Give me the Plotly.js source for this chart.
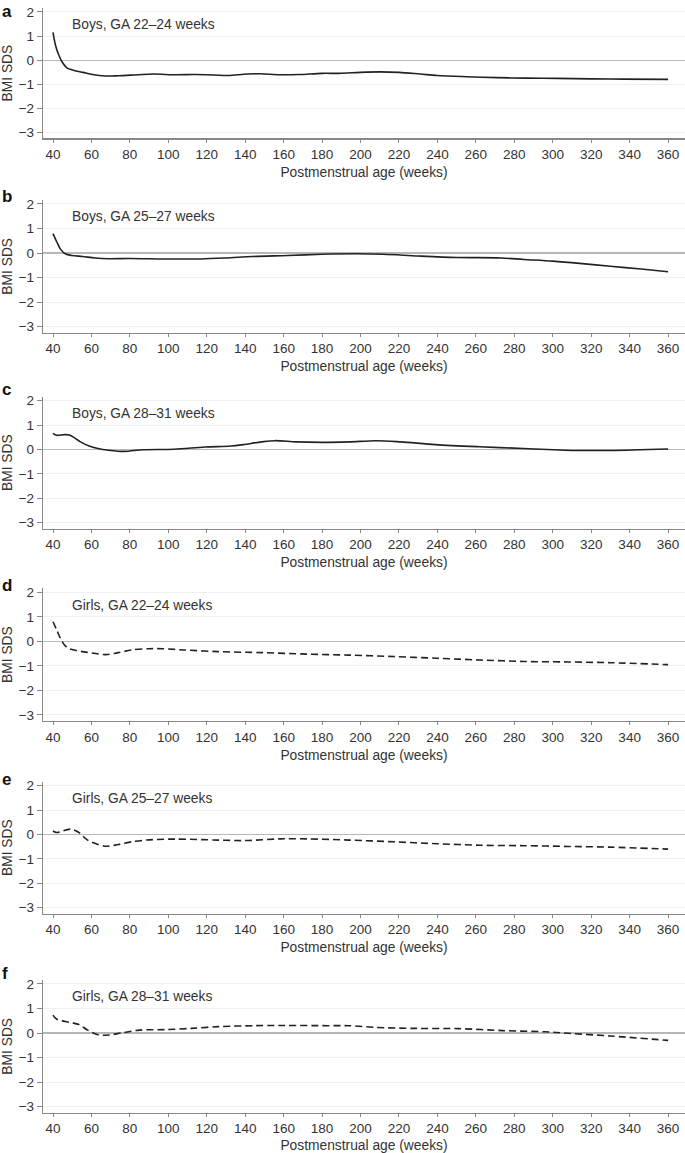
<!DOCTYPE html>
<html>
<head>
<meta charset="utf-8">
<script src="https://cdn.plot.ly/plotly-3.0.1.min.js"></script>
<style>body{margin:0;background:#fff}</style>
</head>
<body>
<div id="myDiv" style="width:685px;height:1153px"></div>
<script>
// BMI SDS by postmenstrual age
var boys2224_x = [40, 41.3, 43, 44.7, 47.2, 50.6, 55.6, 60.6, 67, 74, 84, 92, 104, 114, 124, 131, 141, 148, 158, 168, 180, 189, 200, 210, 220, 231, 240, 255, 271, 286, 302, 320, 337, 360];
var boys2224_y = [1.15, 0.62, 0.21, -0.07, -0.32, -0.42, -0.51, -0.6, -0.66, -0.65, -0.61, -0.58, -0.61, -0.6, -0.62, -0.64, -0.58, -0.57, -0.61, -0.6, -0.55, -0.55, -0.51, -0.49, -0.51, -0.58, -0.64, -0.69, -0.73, -0.75, -0.76, -0.78, -0.79, -0.8];

var boys2527_x = [40, 42, 44, 46.4, 49.8, 55.4, 62, 69, 80, 98.6, 116.7, 130, 144, 162, 180, 198, 212, 230, 250, 273, 285, 300, 314, 330, 346, 360];
var boys2527_y = [0.79, 0.45, 0.15, -0.03, -0.1, -0.14, -0.2, -0.23, -0.22, -0.24, -0.24, -0.2, -0.14, -0.1, -0.05, -0.03, -0.05, -0.12, -0.18, -0.2, -0.26, -0.33, -0.42, -0.54, -0.65, -0.76];

var boys2831_x = [40, 42, 46, 48.6, 54.3, 58.8, 63.4, 69, 77, 87, 103, 119, 132.6, 139, 148.5, 155.3, 166.6, 180, 194, 208, 221, 239, 262, 284.7, 300.5, 312, 330, 360];
var boys2831_y = [0.66, 0.58, 0.61, 0.59, 0.31, 0.14, 0.04, -0.03, -0.08, -0.01, 0.01, 0.1, 0.14, 0.2, 0.31, 0.36, 0.31, 0.29, 0.31, 0.36, 0.31, 0.2, 0.11, 0.04, -0.01, -0.04, -0.04, 0.02];

var girls2224_x = [40, 42, 44, 46, 48, 52, 58, 67.5, 74, 81, 90, 97, 108, 126, 149, 172, 194, 217, 240, 262, 285, 308, 330, 360];
var girls2224_y = [0.8, 0.45, 0.1, -0.15, -0.28, -0.37, -0.45, -0.54, -0.46, -0.35, -0.3, -0.3, -0.35, -0.42, -0.46, -0.52, -0.56, -0.62, -0.69, -0.76, -0.82, -0.84, -0.87, -0.95];

var girls2527_x = [40, 42, 49, 53.5, 58, 67, 74, 81, 90, 103.5, 126, 140, 158, 172, 194, 217, 240, 262, 285, 308, 330, 360];
var girls2527_y = [0.14, 0.08, 0.22, 0.08, -0.23, -0.48, -0.41, -0.3, -0.22, -0.19, -0.23, -0.25, -0.18, -0.18, -0.23, -0.3, -0.38, -0.44, -0.46, -0.49, -0.52, -0.6];

var girls2831_x = [40, 42, 49, 53.5, 58, 63.5, 69, 76, 85, 99, 112, 126, 144.5, 160, 183, 194, 208, 228, 251, 274, 296, 308, 330, 360];
var girls2831_y = [0.73, 0.56, 0.43, 0.35, 0.12, -0.07, -0.08, 0.01, 0.12, 0.14, 0.19, 0.26, 0.3, 0.31, 0.3, 0.3, 0.23, 0.19, 0.18, 0.1, 0.05, -0.01, -0.12, -0.3];

var panelLetters = ['a', 'b', 'c', 'd', 'e', 'f'];
var panelNames = ['Boys, GA 22\u201324 weeks', 'Boys, GA 25\u201327 weeks', 'Boys, GA 28\u201331 weeks',
                  'Girls, GA 22\u201324 weeks', 'Girls, GA 25\u201327 weeks', 'Girls, GA 28\u201331 weeks'];
var xs = [boys2224_x, boys2527_x, boys2831_x, girls2224_x, girls2527_x, girls2831_x];
var ys = [boys2224_y, boys2527_y, boys2831_y, girls2224_y, girls2527_y, girls2831_y];
var dashes = ['solid', 'solid', 'solid', '7px,4px', '7px,4px', '7px,4px'];
var xTicks = [40, 60, 80, 100, 120, 140, 160, 180, 200, 220, 240, 260, 280, 300, 320, 340, 360];
var yTicks = [-3, -2, -1, 0, 1, 2];

// panel pixel positions (top, bottom) in the 1153px page
var H = 1153;
var tops = [7.9, 199.8, 396.5, 588.1, 781.5, 979.8];
var bots = [138.3, 332.8, 528.8, 721.1, 913.8, 1112.8];
var letterY = [11, 196.5, 390, 585, 779, 973];

var data = [];
var layout = {
  width: 685, height: H,
  margin: {l: 43, r: 0, t: 0, b: 0},
  paper_bgcolor: '#fff', plot_bgcolor: '#fff',
  showlegend: false,
  font: {family: 'Liberation Sans, Arial, sans-serif', size: 13.5, color: '#333'},
  annotations: []
};

for (var i = 0; i < 6; i++) {
  var n = i === 0 ? '' : String(i + 1);
  data.push({
    type: 'scatter', mode: 'lines',
    x: xs[i], y: ys[i],
    xaxis: 'x' + n, yaxis: 'y' + n,
    line: {color: '#222', width: 1.6, shape: 'spline', smoothing: 0.9, dash: dashes[i]},
    hoverinfo: 'x+y'
  });
  layout['xaxis' + n] = {
    domain: [0, 1], anchor: 'y' + n,
    range: [34.8, 368.8],
    tickvals: xTicks,
    ticks: 'outside', ticklen: 3, tickcolor: '#888',
    showline: true, linecolor: '#888', linewidth: 1.2,
    showgrid: false, zeroline: false,
    tickfont: {size: 13.5, color: '#333'},
    title: {text: 'Postmenstrual age (weeks)', font: {size: 13.8, color: '#333'}, standoff: 6}
  };
  layout['yaxis' + n] = {
    domain: [1 - bots[i] / H, 1 - tops[i] / H], anchor: 'x' + n,
    range: [-3.25, 2.17],
    tickvals: yTicks,
    ticks: 'outside', ticklen: 5, tickcolor: '#888',
    showline: true, linecolor: '#888', linewidth: 1.2,
    showgrid: true, gridcolor: '#efefef', gridwidth: 1,
    zeroline: true, zerolinecolor: '#b8b8b8', zerolinewidth: 1.2,
    tickfont: {size: 13.5, color: '#333'},
    title: {text: 'BMI SDS', font: {size: 13.8, color: '#333'}, standoff: 5}
  };
  layout.annotations.push({
    text: panelLetters[i], showarrow: false,
    xref: 'paper', yref: 'paper',
    x: -43 / 642, xanchor: 'left',
    y: 1 - letterY[i] / H, yanchor: 'middle',
    font: {size: 17, color: '#111', family: 'Liberation Sans, Arial, sans-serif', weight: 'bold'}
  });
  layout.annotations.push({
    text: panelNames[i], showarrow: false,
    xref: 'paper', yref: 'paper',
    x: 27 / 642, xanchor: 'left',
    y: 1 - (tops[i] + 17) / H, yanchor: 'middle',
    font: {size: 13.8, color: '#333'}
  });
}

Plotly.newPlot('myDiv', data, layout, {displayModeBar: false, staticPlot: true});
</script>
</body>
</html>
